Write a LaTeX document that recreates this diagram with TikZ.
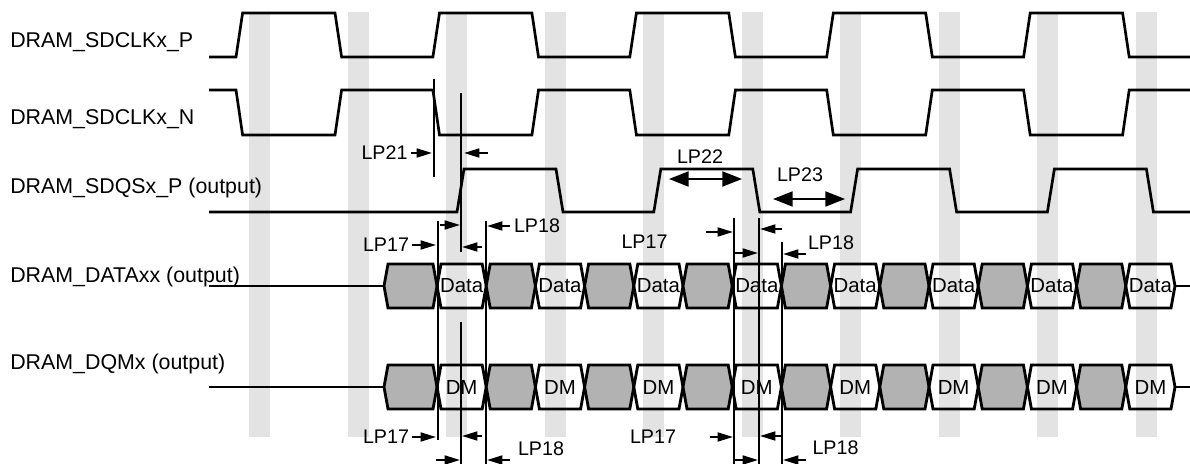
\documentclass[tikz,border=0pt]{standalone}
\usepackage{fontspec}
\setmainfont{Liberation Sans}
\usepackage{tikz}
\usetikzlibrary{arrows.meta}
\definecolor{bargray}{gray}{0.89}
\definecolor{busgray}{gray}{0.70}
\tikzset{
	wave/.style={line width=1.9pt},
	cell/.style={line width=2pt, draw=black},
	dimline/.style={line width=1.4pt},
	dimarrow/.style={line width=1.4pt, -{Triangle[length=11pt,width=6.4pt]}},
	bigarrow/.style={line width=1.4pt, {Triangle[length=14pt,width=10.7pt]}-{Triangle[length=14pt,width=10.7pt]}},
	signame/.style={anchor=base west, inner sep=0pt, font=\fontsize{15.2}{18}\selectfont},
	lplabel/.style={inner sep=0pt, font=\fontsize{14}{16}\selectfont},
	celltext/.style={inner sep=0pt, font=\fontsize{14.5}{17}\selectfont}
}

\begin{document}
\begin{tikzpicture}[x=0.025cm, y=-0.025cm]
			\useasboundingbox (0,0) rectangle (1190,464);
			\foreach \k in {0,...,9}
				\fill[bargray] ({249+98.55*\k},12) rectangle ({270+98.55*\k},437);

			\node[signame] (clkp) at (10,48) {DRAM\_SDCLKx\_P};
			\node[signame] (clkn) at (10,125) {DRAM\_SDCLKx\_N};
			\node[signame] (dqs) at (10,194) {DRAM\_SDQSx\_P (output)};
			\node[signame] (data) at (10,283) {DRAM\_DATAxx (output)};
			\node[signame] (dqm) at (10,370) {DRAM\_DQMx (output)};

			\draw[wave] (209,57) \foreach \k in {0,...,4} { -- ({236+196.9*\k},57) -- ({242.6+196.9*\k},13) -- ({335+196.9*\k},13) -- ({341.6+196.9*\k},57) } -- (1190,57);
			\draw[wave] (209,90) \foreach \k in {0,...,4} { -- ({236+196.9*\k},90) -- ({242.6+196.9*\k},135) -- ({335+196.9*\k},135) -- ({341.6+196.9*\k},90) } -- (1190,90);
			\draw[wave] (209,212) \foreach \k in {0,...,3} { -- ({457+196.8*\k},212) -- ({464+196.8*\k},169) -- ({556+196.8*\k},169) -- ({563+196.8*\k},212) } -- (1190,212);

			\foreach \y/\t/\n in {286/Data/d, 387/DM/m} {
				\draw[wave] (209,\y) -- (384,\y);
				\draw[wave] (1175,\y) -- (1190,\y);
				\draw[cell, fill=busgray] (384,\y) -- (388,{\y-22}) -- (433,{\y-22}) -- (437,\y) -- (433,{\y+22}) -- (388,{\y+22}) -- cycle;
				\foreach \k in {1,...,15} {
					\pgfmathsetmacro\xl{437+49.2*(\k-1)}
					\pgfmathsetmacro\xr{437+49.2*\k}
					\ifodd\k
						\draw[cell] (\xl,\y) -- ({\xl+4},{\y-22}) -- ({\xr-4},{\y-22}) -- (\xr,\y) -- ({\xr-4},{\y+22}) -- ({\xl+4},{\y+22}) -- cycle;
						\node[celltext] (\n\k) at ({\xl+24.6},\y) {\t};
					\else
						\draw[cell, fill=busgray] (\xl,\y) -- ({\xl+4},{\y-22}) -- ({\xr-4},{\y-22}) -- (\xr,\y) -- ({\xr-4},{\y+22}) -- ({\xl+4},{\y+22}) -- cycle;
					\fi
				}
			}

			% LP21
			\draw[dimline] (434,79) -- (434,177);
			\draw[dimline] (461,93) -- (461,252);
			\node[lplabel] (lp21) at (384.5,153) {LP21};
			\draw[dimarrow] (lp21.east) ++(3,0) -- (432,153);
			\draw[dimarrow] (488,153) -- (464,153);

			% LP22, LP23
			\node[lplabel] (lp22) at (700,157) {LP22};
			\draw[bigarrow] (669,179) -- (742,179);
			\node[lplabel] (lp23) at (800,175) {LP23};
			\draw[bigarrow] (773,199) -- (845,199);

			% LP17, LP18 first edge
			\draw[dimline] (438,221) -- (438,440);
			\draw[dimline] (486,221) -- (486,464);
			\draw[dimline] (461,322) -- (461,464);
			\node[lplabel] (lp17a) at (386,245) {LP17};
			\node[lplabel] (lp18a) at (537,226) {LP18};
			\draw[dimarrow] (440,225) -- (460,225);
			\draw[dimarrow] (lp17a.east) ++(3,0) -- (436,245);
			\draw[dimarrow] (482,247) -- (462,247);
			\draw[dimarrow] (lp18a.west) ++(-4,0) -- (487,226);
			\node[lplabel] (lp17b) at (386,437) {LP17};
			\node[lplabel] (lp18b) at (541,449) {LP18};
			\draw[dimarrow] (lp17b.east) ++(3,0) -- (436,437);
			\draw[dimarrow] (482,436) -- (462,436);
			\draw[dimarrow] (436,460) -- (460,460);
			\draw[dimarrow] (510,460) -- (487,460);

			% LP17, LP18 second edge
			\draw[dimline] (734,218) -- (734,464);
			\draw[dimline] (759,218) -- (759,464);
			\draw[dimline] (782,242) -- (782,464);
			\node[lplabel] (lp17c) at (644.5,242) {LP17};
			\node[lplabel] (lp18c) at (831,243) {LP18};
			\draw[dimarrow] (706,232) -- (733,232);
			\draw[dimarrow] (782,229) -- (760,229);
			\draw[dimarrow] (735,253) -- (758,253);
			\draw[dimarrow] (806,254) -- (783,254);
			\node[lplabel] (lp17d) at (653,437) {LP17};
			\node[lplabel] (lp18d) at (835.5,448) {LP18};
			\draw[dimarrow] (710,437) -- (733,437);
			\draw[dimarrow] (782,436) -- (760,436);
			\draw[dimarrow] (733,460) -- (758,460);
			\draw[dimarrow] (806,460) -- (783,460);
		\end{tikzpicture}
\end{document}
